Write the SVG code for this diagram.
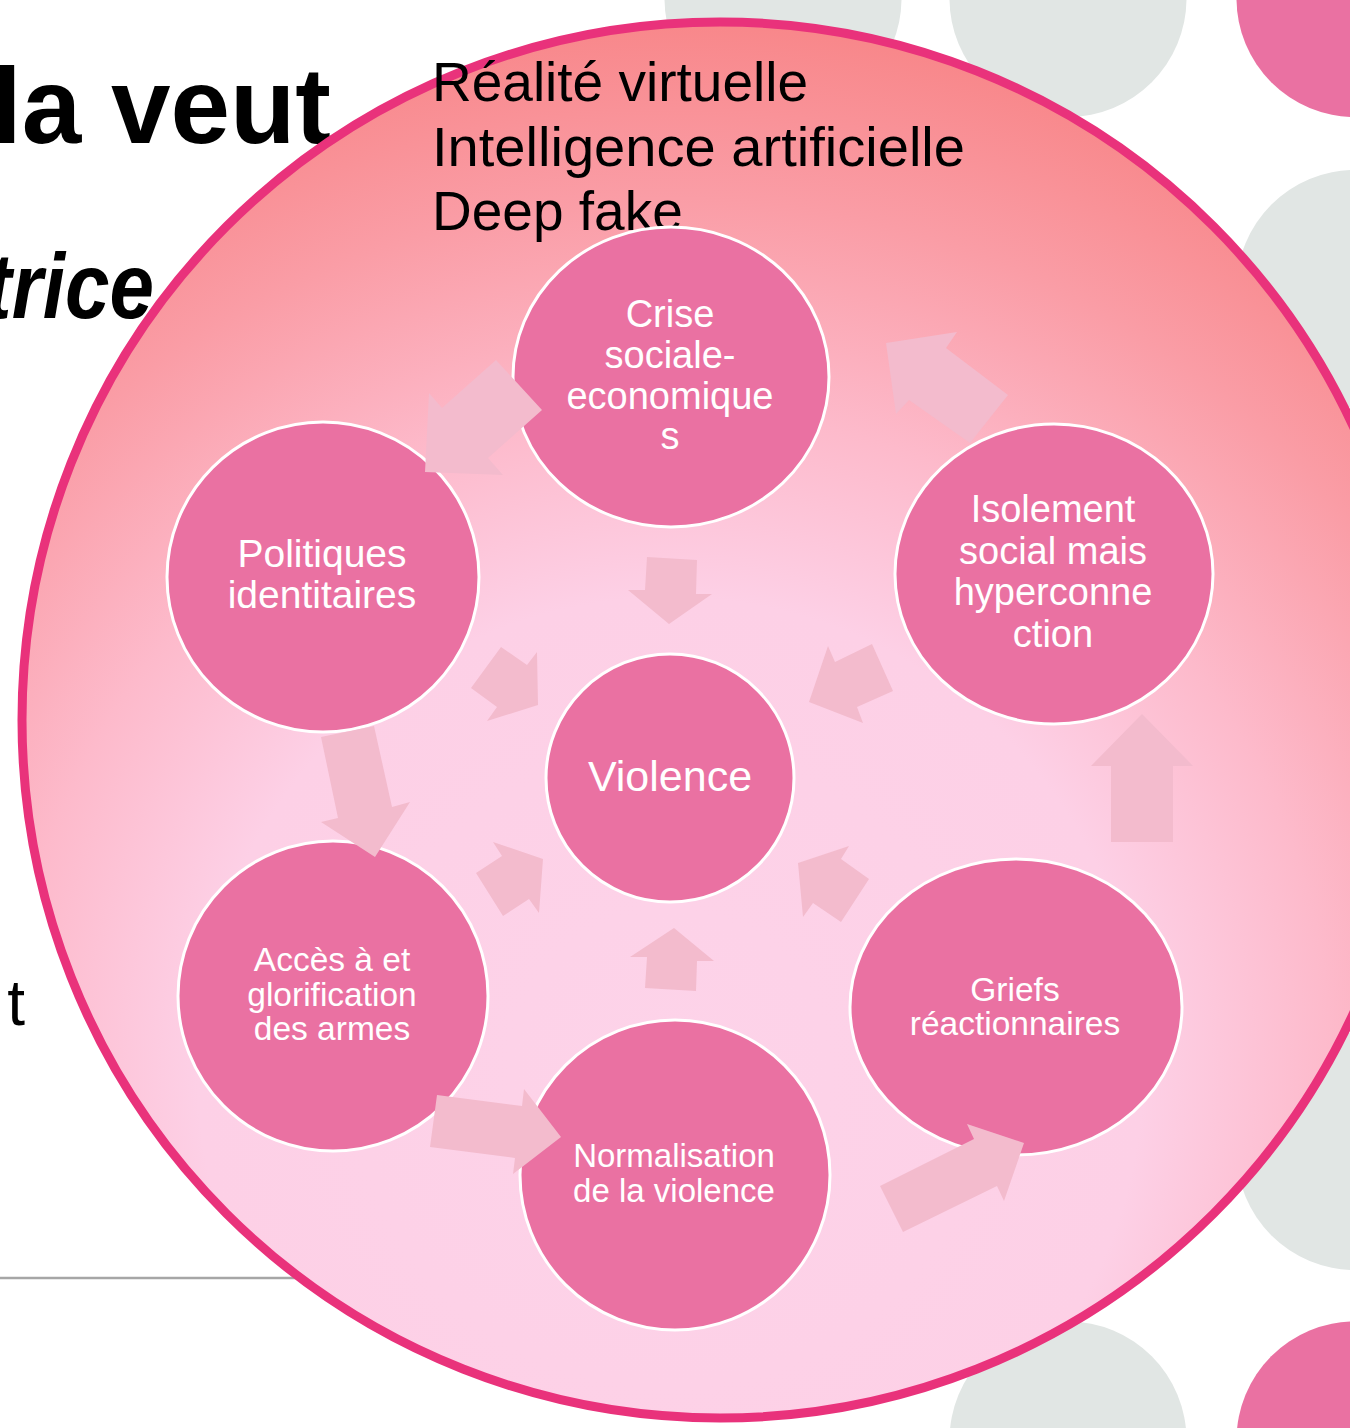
<svg xmlns="http://www.w3.org/2000/svg" width="1350" height="1428" viewBox="0 0 1350 1428">
<defs>
<radialGradient id="bg" gradientUnits="userSpaceOnUse" cx="670" cy="1070" r="1050">
<stop offset="0" stop-color="#FDD3E9"/>
<stop offset="0.45" stop-color="#FDD0E6"/>
<stop offset="0.63" stop-color="#FDBACB"/>
<stop offset="0.83" stop-color="#FA9DA6"/>
<stop offset="1" stop-color="#F8878A"/>
</radialGradient>
<style>
.grey{fill:#E1E6E4}
.dot{fill:#EA71A2}
.node{fill:#EA71A2;stroke:#FFFFFF;stroke-width:3}
.lbl{fill:#FFFFFF;font-family:"Liberation Sans",Arial,sans-serif;text-anchor:middle}
.arr{fill:#F3BBCD}
.blk{fill:#000000;font-family:"Liberation Sans",Arial,sans-serif}
</style>
</defs>
<rect width="1350" height="1428" fill="#FFFFFF"/>
<g id="decor">
<circle class="grey" cx="783" cy="-1.5" r="118.5"/>
<circle class="grey" cx="1068" cy="-1.5" r="118.5"/>
<circle class="dot" cx="1355" cy="-1.5" r="118.5"/>
<circle class="grey" cx="1355" cy="288.5" r="118.5"/>
<circle class="grey" cx="1355" cy="1151.5" r="118.5"/>
<circle class="grey" cx="1068" cy="1440" r="118.5"/>
<circle class="dot" cx="1355" cy="1440" r="118.5"/>
<line x1="0" y1="1278" x2="320" y2="1278" stroke="#A6A6A6" stroke-width="2.5"/>
</g>
<g id="title-text">
<text class="blk" x="-8" y="143" font-size="107" font-weight="bold">la veut</text>
<text class="blk" x="-15" y="318" font-size="92" font-weight="bold" font-style="italic" textLength="169" lengthAdjust="spacingAndGlyphs">trice</text>
<text class="blk" x="25" y="1025" font-size="64" text-anchor="end">t</text>
</g>
<g id="outer">
<circle cx="720" cy="720" r="698" fill="url(#bg)" stroke="#E9327B" stroke-width="9"/>
</g>
<g id="outer-text">
<text class="blk" x="432" y="101" font-size="55">Réalité virtuelle</text>
<text class="blk" x="432" y="166" font-size="55" textLength="533" lengthAdjust="spacingAndGlyphs">Intelligence artificielle</text>
<text class="blk" x="432" y="230" font-size="55">Deep fake</text>
</g>
<g id="node-crise">
<ellipse class="node" cx="671" cy="377" rx="158" ry="150"/>
<text class="lbl" font-size="38"><tspan x="670" y="327">Crise</tspan><tspan x="670" y="368">sociale-</tspan><tspan x="670" y="409">economique</tspan><tspan x="670" y="449">s</tspan></text>
</g>
<g id="node-isolement">
<ellipse class="node" cx="1054" cy="574" rx="159" ry="150"/>
<text class="lbl" font-size="38"><tspan x="1053" y="522">Isolement</tspan><tspan x="1053" y="564">social mais</tspan><tspan x="1053" y="605">hyperconne</tspan><tspan x="1053" y="647">ction</tspan></text>
</g>
<g id="node-politiques">
<ellipse class="node" cx="323" cy="577" rx="156" ry="155"/>
<text class="lbl" font-size="39"><tspan x="322" y="567">Politiques</tspan><tspan x="322" y="608">identitaires</tspan></text>
</g>
<g id="node-violence">
<circle class="node" cx="670" cy="778" r="124"/>
<text class="lbl" font-size="43" x="670" y="791">Violence</text>
</g>
<g id="node-acces">
<ellipse class="node" cx="333" cy="996" rx="155" ry="155"/>
<text class="lbl" font-size="33.5"><tspan x="332" y="971">Accès à et</tspan><tspan x="332" y="1006">glorification</tspan><tspan x="332" y="1040">des armes</tspan></text>
</g>
<g id="node-normalisation">
<ellipse class="node" cx="675" cy="1175" rx="155" ry="155"/>
<text class="lbl" font-size="33"><tspan x="674" y="1167">Normalisation</tspan><tspan x="674" y="1202">de la violence</tspan></text>
</g>
<g id="node-griefs">
<ellipse class="node" cx="1016" cy="1007" rx="166" ry="148"/>
<text class="lbl" font-size="33.5"><tspan x="1015" y="1001">Griefs</tspan><tspan x="1015" y="1035">réactionnaires</tspan></text>
</g>
<g id="connectors">
<polygon class="arr" points="496,360 542,410 488,458 503,475 425,472 429,393 442,408"/>
<polygon class="arr" points="647,557 697,560 696,594 712,594 669,624 628,590 645,590"/>
<polygon class="arr" points="886,343 957,332 946,348 1008,395 970,443 909,400 896,414"/>
<polygon class="arr" points="828,646 835,662 872,644 893,691 857,707 863,723 809,702"/>
<polygon class="arr" points="501,647 527,665 537,652 538,705 487,721 497,707 471,688"/>
<polygon class="arr" points="374,726 392,807 410,802 375,857 321,822 338,818 321,737"/>
<polygon class="arr" points="493,842 543,859 539,913 529,899 503,916 476,873 502,856"/>
<polygon class="arr" points="674,928 714,961 697,961 696,991 645,988 647,957 630,957"/>
<polygon class="arr" points="849,846 841,859 869,879 841,922 813,903 803,917 798,863"/>
<polygon class="arr" points="1142,714 1193,766 1173,766 1173,842 1111,842 1111,766 1091,766"/>
<polygon class="arr" points="437,1095 522,1106 524,1089 561,1137 513,1174 515,1158 430,1147"/>
<polygon class="arr" points="880,1186 974,1139 967,1124 1024,1143 1004,1201 997,1186 903,1232"/>
</g>
</svg>
